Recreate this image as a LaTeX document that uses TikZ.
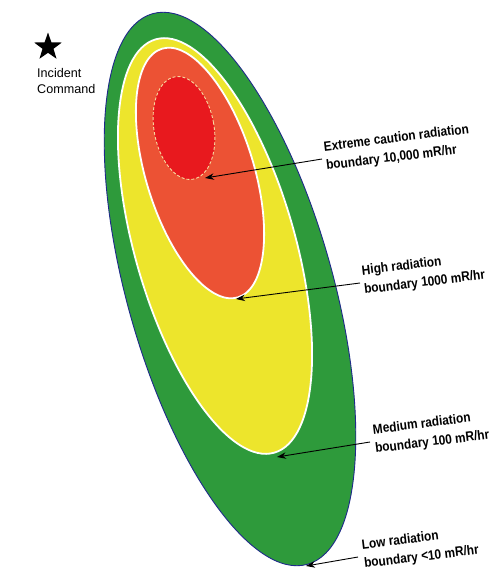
\documentclass[tikz,border=0pt]{standalone}
\usepackage{fontspec}
\setmainfont{Liberation Sans}
\newfontfamily\labfont[FakeStretch=0.88]{Liberation Sans}
\usetikzlibrary{shapes.geometric,arrows.meta}
\definecolor{zgreen}{HTML}{2E9A3B}
\definecolor{zyellow}{HTML}{EDE52C}
\definecolor{zorange}{HTML}{EC5234}
\definecolor{zred}{HTML}{E8191E}
\definecolor{zoutline}{HTML}{1F2A8A}
\definecolor{zdash}{HTML}{F7D9A0}
\begin{document}
\begin{tikzpicture}[x=1pt,y=1pt,
  lab/.style={font=\labfont\bfseries\fontsize{13.5}{19}\selectfont, align=left, rotate=7, anchor=west, inner sep=0pt},
  pointer/.style={-{Stealth[length=9pt,width=6.5pt]}, line width=0.9pt, black},
  whiteedge/.style={draw=white, line width=1.8pt}]
\useasboundingbox[fill=white] (0,0) rectangle (501,-571);
% zones
\fill[zgreen, draw=zoutline, line width=0.9pt, rotate around={15.7:(230,-289)}] (230,-289) ellipse [x radius=103, y radius=286];
\fill[zyellow, whiteedge, rotate around={16:(215,-246)}] (215,-246) ellipse [x radius=80, y radius=215];
\fill[zorange, whiteedge, rotate around={17:(200,-173)}] (200,-173) ellipse [x radius=54, y radius=130];
\fill[zred, draw=zdash, line width=0.9pt, dash pattern=on 3pt off 2pt, rotate around={10:(184,-128)}] (184,-128) ellipse [x radius=30, y radius=52];
% arrow targets
\coordinate (t1) at (205,-178);
\coordinate (t2) at (236,-299);
\coordinate (t3) at (277,-457);
\coordinate (t4) at (306,-566);
% incident command
\node[star, star points=5, star point ratio=2.5, fill=black, minimum size=29pt, inner sep=0pt] (star) at (48,-47) {};
\node[anchor=north west, inner sep=0pt, align=left, font=\fontsize{12.6}{16}\selectfont] (ic) at (37,-68) {Incident\\Command};
% labels
\node[lab] (l1) at (325,-157) {Extreme caution radiation\\boundary 10,000 mR/hr};
\node[lab] (l2) at (363,-281) {High radiation\\boundary 1000 mR/hr};
\node[lab] (l3) at (374,-440) {Medium radiation\\boundary 100 mR/hr};
\node[lab] (l4) at (363,-555) {Low radiation\\boundary <10 mR/hr};
\draw[pointer] ([shift={(-3pt,-2pt)}]l1.west) -- (t1);
\draw[pointer] ([shift={(-3pt,-2pt)}]l2.west) -- (t2);
\draw[pointer] ([shift={(-4pt,-2pt)}]l3.west) -- (t3);
\draw[pointer] ([shift={(-5pt,-2pt)}]l4.west) -- (t4);
\end{tikzpicture}
\end{document}
